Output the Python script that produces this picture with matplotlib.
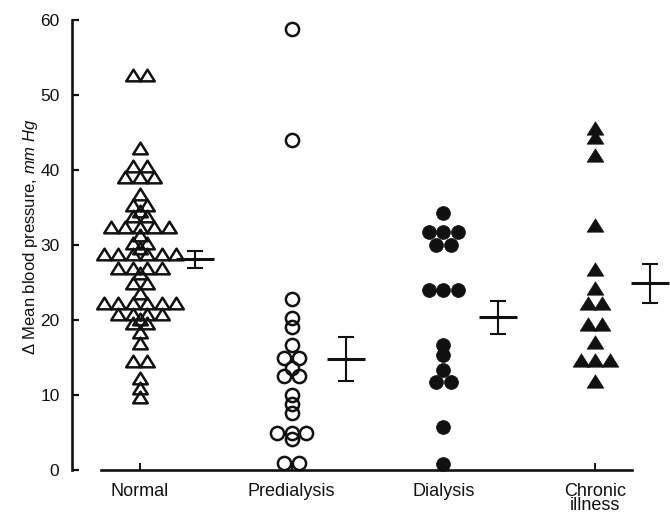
import matplotlib
matplotlib.use('Agg')
import matplotlib.pyplot as plt
from matplotlib.path import Path
import numpy as np

# ---------------- data ----------------
categories = ['Normal', 'Predialysis', 'Dialysis', 'Chronic\nillness']

normal = [52.7, 52.7, 42.9, 40.5, 40.5, 39.1, 39.1, 39.1, 36.8, 35.3, 35.3,
          34.6, 33.9, 33.9, 32.4, 32.4, 32.4, 32.4, 32.4, 31.3, 30.3, 30.3,
          29.6, 28.8, 28.8, 28.8, 28.8, 28.8, 28.8, 27.0, 27.0, 27.0, 27.0,
          26.3, 24.9, 24.9, 23.6, 22.3, 22.3, 22.3, 22.3, 22.3, 22.3,
          20.8, 20.8, 20.8, 20.8, 20.1, 19.6, 19.6, 18.4, 16.9, 14.6, 14.6,
          12.3, 11.0, 9.8]

predialysis = [58.8, 44.0, 22.8, 20.3, 19.1, 16.7, 14.9, 14.9, 13.6, 12.5,
               12.5, 10.0, 8.8, 7.6, 5.0, 5.0, 5.0, 4.1, 0.9, 0.9]

dialysis = [34.3, 31.7, 31.7, 31.7, 30.0, 30.0, 24.0, 24.0, 24.0, 16.7,
            15.3, 13.3, 11.7, 11.7, 5.8, 0.8]

chronic = [45.6, 44.4, 42.0, 32.7, 26.8, 24.3, 22.3, 22.3, 19.5, 19.5,
           17.1, 14.7, 14.7, 14.7, 11.9]

group_means = [28.1, 14.8, 20.4, 24.9]
group_se = [1.1, 2.9, 2.2, 2.6]

yticks = [0, 10, 20, 30, 40, 50, 60]

# ---------------- style ----------------
plt.rcParams['font.family'] = ['Liberation Sans', 'DejaVu Sans']
plt.rcParams['mathtext.fontset'] = 'custom'
plt.rcParams['mathtext.rm'] = 'Liberation Sans'
plt.rcParams['mathtext.it'] = 'Liberation Sans:italic'
ink = '#111111'

tri = Path([(0, 0.8), (-1, -0.8), (1, -0.8), (0, 0.8)],
           [Path.MOVETO, Path.LINETO, Path.LINETO, Path.CLOSEPOLY])

fig = plt.figure(figsize=(6.7, 5.14), dpi=100)
ax = fig.add_axes([72 / 670, 44 / 514, 598 / 670, 450 / 514])

x0, x1 = -0.448, 3.494
ax.set_xlim(x0, x1)
ax.set_ylim(0, 60)

px_per_unit = fig.dpi * 6.7 * (598 / 670) / (x1 - x0)
step = 14.5 / px_per_unit


def row_offsets(values, step):
    vals = np.asarray(values)
    offs = np.zeros(len(vals))
    for v in np.unique(vals):
        idx = np.where(vals == v)[0]
        n = len(idx)
        offs[idx] = (np.arange(n) - (n - 1) / 2) * step
    return offs


groups = [normal, predialysis, dialysis, chronic]
styles = [
    dict(marker=tri, markersize=10.5, markerfacecolor='none',
         markeredgecolor=ink, markeredgewidth=1.8),
    dict(marker='o', markersize=9.5, markerfacecolor='none',
         markeredgecolor=ink, markeredgewidth=1.8),
    dict(marker='o', markersize=10, markerfacecolor=ink,
         markeredgecolor=ink, markeredgewidth=0.5),
    dict(marker=tri, markersize=12, markerfacecolor=ink,
         markeredgecolor=ink, markeredgewidth=0.5),
]

for i, (vals, st) in enumerate(zip(groups, styles)):
    xs = i + row_offsets(vals, step)
    ax.plot(xs, vals, linestyle='none', clip_on=False, zorder=3, **st)

# mean +/- SE markers
mean_x = np.arange(len(categories)) + 0.36
ax.errorbar(mean_x, group_means, yerr=group_se, fmt='none', ecolor=ink,
            elinewidth=1.5, capsize=5.5, capthick=1.5, clip_on=False, zorder=4)
ax.hlines(group_means, mean_x - 0.125, mean_x + 0.125, colors=ink,
          linewidth=2.2, clip_on=False, zorder=4)

# axes styling
for s in ['top', 'right']:
    ax.spines[s].set_visible(False)
ax.spines['left'].set_linewidth(1.9)
ax.spines['bottom'].set_linewidth(1.9)
ax.spines['left'].set_color(ink)
ax.spines['bottom'].set_color(ink)
ax.spines['left'].set_bounds(0, 60)
ax.spines['bottom'].set_bounds(-0.257, 3.243)

ax.set_yticks(yticks)
ax.set_yticklabels([str(t) for t in yticks])
ax.set_xticks(np.arange(len(categories)))
ax.set_xticklabels(categories, fontsize=13, linespacing=0.8)
ax.tick_params(axis='y', direction='in', length=5, width=1.6, pad=9,
               labelsize=12.5, colors=ink)
ax.tick_params(axis='x', direction='in', length=5, width=1.4, pad=9,
               colors=ink)

ax.set_ylabel('Δ Mean blood pressure, $\\mathit{mm\\ Hg}$', fontsize=12,
              color=ink)
ax.yaxis.set_label_coords(-0.054, 0.518)

fig.savefig('out.png', dpi=100)
